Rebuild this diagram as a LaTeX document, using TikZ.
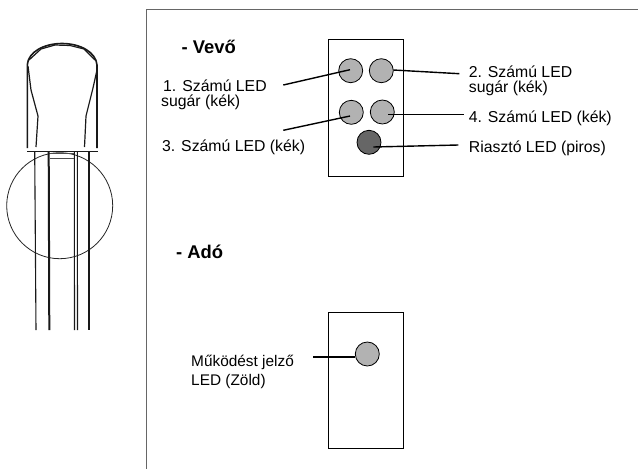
\documentclass[tikz,border=0pt]{standalone}
\usepackage{fontspec}
\setmainfont{Liberation Sans}
\tikzset{
  px/.style={x=1pt,y=-1pt},
  led/.style={circle,draw=black,line width=0.8pt,minimum size=24pt,inner sep=0pt,fill=ledgray},
  ledred/.style={led,fill=leddark},
  panel/.style={draw=black,line width=0.8pt},
  conn/.style={draw=black,line width=1.4pt},
  txt/.style={anchor=base west,inner sep=0pt,font=\fontsize{15.8}{18}\selectfont},
  txtsmall/.style={txt,font=\fontsize{15.4}{18}\selectfont},
  head/.style={txt,font=\fontsize{18.4}{20}\selectfont\bfseries},
  thin lead/.style={draw=black!90,line width=1.1pt},
  thick lead/.style={draw=black!90,line width=2pt},
  ledline/.style={draw=black!90,line width=1.2pt,line join=round},
}
\definecolor{ledgray}{HTML}{B2B2B2}
\definecolor{leddark}{HTML}{666666}
\begin{document}
\begin{tikzpicture}[px]
\useasboundingbox (0,0) rectangle (638,469);
\fill[white] (0,0) rectangle (638,469);
% outer frame
\draw[draw=black!60,line width=1.1pt] (638,9.5) -- (146.5,9.5) -- (146.5,469);
% LED side view
\draw[draw=black!85,line width=0.8pt] (59.7,205.7) circle (53);
\draw[ledline,line width=1.6pt] (27.3,148) -- (27.3,65) .. controls (28,52) and (44,43.5) .. (62,43.5) .. controls (80,43.5) and (96,52) .. (97,65) -- (97,148);
\draw[ledline] (29,60) -- (41,49) -- (55,45) -- (70,45.5) -- (84,49) -- (95,60);
\draw[ledline] (28,66) -- (31,90) -- (38,116) -- (36,147);
\draw[ledline] (97,70) -- (93,88) -- (86,116) -- (84.5,147);
\draw[ledline,line width=1.6pt] (27,151.5) -- (98,151.5);
\draw[thin lead] (34.7,151.5) -- (36,330);
\draw[thick lead] (48.7,151.5) -- (49.3,330);
\draw[thin lead] (74.3,151.5) -- (74.5,330);
\draw[thin lead] (77.3,151.5) -- (77.5,330);
\draw[thick lead] (89,151.5) -- (89,330);
\draw[draw=black!70,line width=0.8pt] (50,153) -- (74,153) (50,158) -- (74,158);
% receiver
\draw[panel] (328.3,39.3) rectangle (403.7,176);
\node[led] (l1) at (350.7,70.7) {};
\node[led] (l2) at (381.3,70.7) {};
\node[led] (l3) at (351.3,112.3) {};
\node[led] (l4) at (382.3,112) {};
\node[ledred] (l5) at (369,142.3) {};
\coordinate (l1p) at (350,69.7);
\coordinate (l2p) at (393.3,70);
\coordinate (l3p) at (350,116);
\coordinate (l4p) at (388.3,114.3);
\coordinate (l5p) at (373.3,147);
\coordinate (c1) at (283.3,85);
\coordinate (c2) at (459.3,73.7);
\coordinate (c3) at (283.3,130.3);
\coordinate (c4) at (464,114.3);
\coordinate (c5) at (458.3,145);
\draw[conn] (c1) -- (l1p);
\draw[conn] (l2p) -- (c2);
\draw[conn] (c3) -- (l3p);
\draw[conn] (l4p) -- (c4);
\draw[conn] (l5p) -- (c5);
\node[head] (t0) at (181.5,53) {- Vevő};
\node[txt] (t1) at (163,91) {1.\hspace{6pt}Számú LED};
\node[txt] (t1b) at (161,106.5) {sugár (kék)};
\node[txt] (t3) at (162,151.5) {3. Számú LED (kék)};
\node[txt] (t2) at (468.7,77.3) {2. Számú LED};
\node[txt] (t2b) at (468.7,92) {sugár (kék)};
\node[txt] (t4) at (468.7,122) {4. Számú LED (kék)};
\node[txt] (t5) at (468.7,152.3) {Riasztó LED (piros)};
% transmitter
\node[head] (t6) at (176,258.5) {- Adó};
\draw[panel] (328,312) rectangle (403.7,448);
\node[led] (l6) at (367.3,354) {};
\coordinate (c6) at (313.3,357);
\draw[conn] (c6) -- (l6.west |- c6);
\node[txtsmall] (t7) at (191,366) {Működést jelző};
\node[txtsmall] (t7b) at (191,385.7) {LED (Zöld)};
\end{tikzpicture}
\end{document}
